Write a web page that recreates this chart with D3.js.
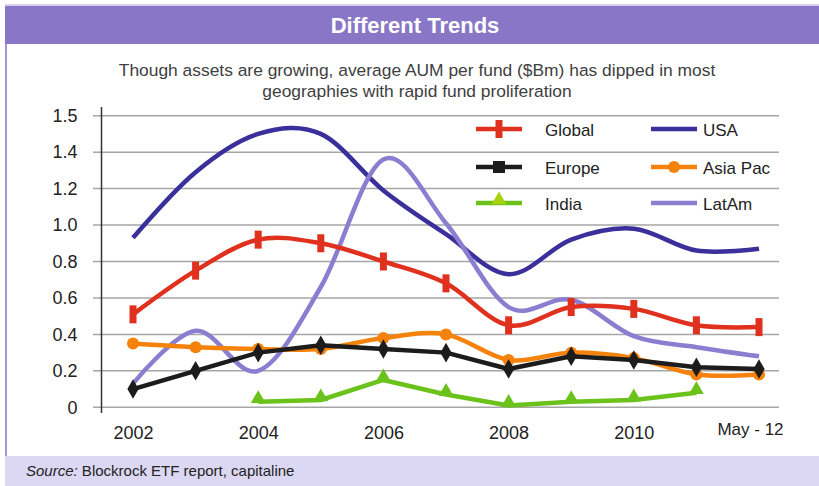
<!doctype html>
<html>
<head>
<meta charset="utf-8">
<script src="https://d3js.org/d3.v7.min.js"></script>
<style>
body {margin:0; background:#fff;}
svg text {font-family: "Liberation Sans", Arial, sans-serif;}
</style>
</head>
<body>
<svg width="819" height="486" class="chart"></svg>
<script>

// categories and tick labels
var years = ["2002","2003","2004","2005","2006","2007","2008","2009","2010","2011","May-12"];
var xLabels = ["2002","","2004","","2006","","2008","","2010","","May - 12"];
var yTicks = [0, 0.2, 0.4, 0.6, 0.8, 1.0, 1.2, 1.4, 1.6];
var yLabels = ["0","0.2","0.4","0.6","0.8","1.0","1.2","1.4","1.5"];

// series values (avg AUM per fund, $Bm)
var usa     = [0.93, 1.29, 1.50, 1.50, 1.19, 0.95, 0.73, 0.92, 0.98, 0.86, 0.87];
var latam   = [0.13, 0.42, 0.20, 0.66, 1.36, 1.01, 0.55, 0.59, 0.39, 0.33, 0.28];
var global  = [0.51, 0.75, 0.92, 0.90, 0.80, 0.68, 0.45, 0.55, 0.54, 0.45, 0.44];
var asiapac = [0.35, 0.33, 0.32, 0.32, 0.38, 0.40, 0.26, 0.30, 0.27, 0.18, 0.18];
var europe  = [0.10, 0.20, 0.30, 0.34, 0.32, 0.30, 0.21, 0.28, 0.26, 0.22, 0.21];
var india   = [null, null, 0.03, 0.04, 0.15, 0.07, 0.01, 0.03, 0.04, 0.08, null];

var svg = d3.select(".chart");

var x = d3.scalePoint().domain(years).range([133, 759]);
var y = d3.scaleLinear().domain([0, 1.6]).range([407.3, 115.7]);

// frame: header, left border, footer
svg.append("rect").attr("x", 5).attr("y", 4).attr("width", 814).attr("height", 2).style("fill", "#d9d2ee");
svg.append("rect").attr("x", 5).attr("y", 6).attr("width", 814).attr("height", 38).style("fill", "#8976c6");
svg.append("rect").attr("x", 5).attr("y", 44).attr("width", 2).attr("height", 412).style("fill", "#a596d8");
svg.append("rect").attr("x", 5).attr("y", 456).attr("width", 814).attr("height", 30).style("fill", "#dcd7f2");

svg.append("text")
.attr("x", 415).attr("y", 33)
.attr("text-anchor", "middle")
.style("font-size", "22px").style("font-weight", "bold").style("fill", "#fff")
.text("Different Trends");

svg.append("text")
.attr("x", 417).attr("y", 76)
.attr("text-anchor", "middle")
.style("font-size", "17.4px").style("fill", "#404040")
.text("Though assets are growing, average AUM per fund ($Bm) has dipped in most");
svg.append("text")
.attr("x", 417).attr("y", 97)
.attr("text-anchor", "middle")
.style("font-size", "17.4px").style("fill", "#404040")
.text("geographies with rapid fund proliferation");

var src = svg.append("text").attr("x", 26).attr("y", 476).style("font-size", "15px").style("fill", "#222");
src.append("tspan").style("font-style", "italic").text("Source:");
src.append("tspan").text(" Blockrock ETF report, capitaline");

// gridlines
svg.append("g").selectAll("line")
.data(yTicks)
.enter().append("line")
.attr("x1", 93).attr("x2", 779)
.attr("y1", function(d) {return y(d);})
.attr("y2", function(d) {return y(d);})
.style("stroke", "#a6a6a6").style("stroke-width", 1.5);

// y axis
var yAxis = svg.append("g")
.attr("transform", "translate(101.5,0)")
.call(d3.axisLeft(y).tickValues(yTicks).tickSize(0).tickPadding(24)
  .tickFormat(function(d, i) {return yLabels[i];}));
yAxis.select(".domain").remove();
yAxis.selectAll("text").style("font-size", "18px").style("fill", "#222").style("font-family", "Liberation Sans, Arial, sans-serif");
svg.append("line").attr("x1", 101.5).attr("x2", 101.5).attr("y1", 107).attr("y2", 413)
.style("stroke", "#333").style("stroke-width", 1.5);

// x axis labels
var xAxis = svg.append("g")
.attr("transform", "translate(0,426)")
.call(d3.axisBottom(x).tickSize(0).tickPadding(0)
  .tickFormat(function(d, i) {return xLabels[i];}));
xAxis.select(".domain").remove();
xAxis.selectAll("text").style("font-size", "18px").style("fill", "#222").style("font-family", "Liberation Sans, Arial, sans-serif");
xAxis.selectAll(".tick").filter(function(d) {return d == "May-12";})
.select("text").attr("dx", -9).attr("dy", "0.5em").style("font-size", "17px");

// lines
var series = [
  {name: "USA", values: usa, color: "#3b2f9b", curve: true, marker: "none"},
  {name: "LatAm", values: latam, color: "#8b7dd0", curve: true, marker: "none"},
  {name: "Global", values: global, color: "#e0301e", curve: true, marker: "bar"},
  {name: "Asia Pac", values: asiapac, color: "#f5820a", curve: true, marker: "circle"},
  {name: "Europe", values: europe, color: "#1c1c1c", curve: false, marker: "diamond"},
  {name: "India", values: india, color: "#6ac21a", curve: false, marker: "triangle"}
];

function drawMarker(g, type, color, cx, cy) {
  if (type == "bar") {
    g.append("rect").attr("x", cx - 3.5).attr("y", cy - 9).attr("width", 7).attr("height", 18).style("fill", color);
  } else if (type == "circle") {
    g.append("circle").attr("cx", cx).attr("cy", cy).attr("r", 6).style("fill", color);
  } else if (type == "diamond") {
    g.append("path").attr("d", d3.symbol().type(d3.symbolDiamond).size(110)())
    .attr("transform", "translate(" + cx + "," + cy + ")").style("fill", color);
  } else if (type == "square") {
    g.append("rect").attr("x", cx - 6).attr("y", cy - 6).attr("width", 12).attr("height", 12).style("fill", color);
  } else if (type == "triangle") {
    g.append("path").attr("d", d3.symbol().type(d3.symbolTriangle).size(95)())
    .attr("transform", "translate(" + cx + "," + (cy - 3) + ")").style("fill", color);
  }
}

series.forEach(function(s) {
  var line = d3.line()
  .defined(function(d) {return d != null;})
  .x(function(d, i) {return x(years[i]);})
  .y(function(d) {return y(d);})
  .curve(s.curve ? d3.curveCatmullRom.alpha(0) : d3.curveLinear);

  var g = svg.append("g");
  g.append("path")
  .attr("d", line(s.values))
  .style("fill", "none")
  .style("stroke", s.color)
  .style("stroke-width", 4.5)
  .style("stroke-linejoin", "round");

  s.values.forEach(function(v, i) {
    if (v != null) drawMarker(g, s.marker, s.color, x(years[i]), y(v));
  });
});

// legend
var legendItems = [
  {name: "Global", col: 0, row: 0},
  {name: "USA", col: 1, row: 0},
  {name: "Europe", col: 0, row: 1},
  {name: "Asia Pac", col: 1, row: 1},
  {name: "India", col: 0, row: 2},
  {name: "LatAm", col: 1, row: 2}
];
var legend = svg.append("g");
legendItems.forEach(function(it) {
  var s = series.filter(function(d) {return d.name == it.name;})[0];
  var lx = it.col == 0 ? 476 : 651;
  var ly = [129, 167, 203][it.row];
  var gi = legend.append("g");
  gi.append("line").attr("x1", lx).attr("x2", lx + 46).attr("y1", ly).attr("y2", ly)
  .style("stroke", s.color).style("stroke-width", 4.5);
  var mcolor = s.marker == "triangle" ? "#a6d20e" : s.color;
  var mtype = s.marker == "diamond" ? "square" : s.marker;
  drawMarker(gi, mtype, mcolor, lx + 23, ly);
  gi.append("text")
  .attr("x", it.col == 0 ? 545 : 703)
  .attr("y", ly + 7)
  .style("font-size", "17px").style("fill", "#222")
  .text(it.name);
});

</script>
</body>
</html>
